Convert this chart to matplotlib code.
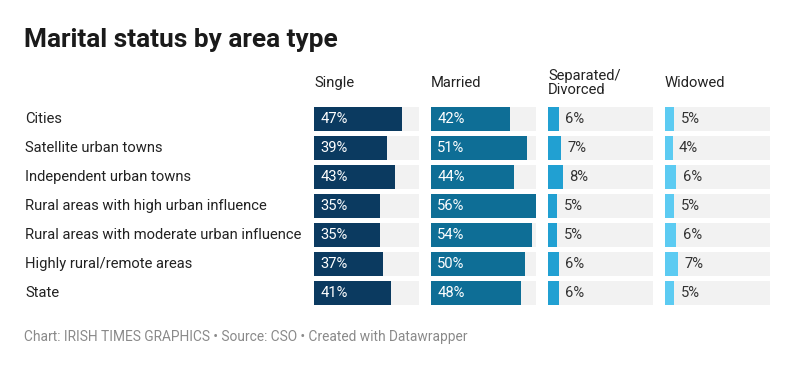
import matplotlib.pyplot as plt

areas = ["Cities", "Satellite urban towns", "Independent urban towns",
         "Rural areas with high urban influence",
         "Rural areas with moderate urban influence",
         "Highly rural/remote areas", "State"]
headers = ["Single", "Married", "Separated/\nDivorced", "Widowed"]
single = [47, 39, 43, 35, 35, 37, 41]
married = [42, 51, 44, 56, 54, 50, 48]
separated = [6, 7, 8, 5, 5, 6, 6]
widowed = [5, 4, 6, 5, 6, 7, 5]

series = [single, married, separated, widowed]
colors = ["#0b3a60", "#0e6e96", "#21a0d2", "#5ccbf2"]
label_inside = [True, True, False, False]
xmax = 56

plt.rcParams['font.family'] = ['Roboto', 'DejaVu Sans']

W, H = 800, 388
fig = plt.figure(figsize=(W / 100, H / 100), dpi=100)

fig.text(24 / W, 1 - 40 / H, "Marital status by area type", fontsize=18.9,
         fontweight='bold', color='#1a1a1a', va='center', ha='left')

top, bottom = 104.5, 307.5
panel_x = [314, 431, 548, 665]
panel_w = 105
fs = 10.6

n = len(areas)
for i, name in enumerate(areas):
    yc = top + (i + 0.5) * (bottom - top) / n
    fig.text(25 / W, 1 - yc / H, name, fontsize=fs, color='#222222',
             va='center', ha='left')

for k, vals in enumerate(series):
    ax = fig.add_axes([panel_x[k] / W, 1 - bottom / H, panel_w / W,
                       (bottom - top) / H])
    ys = list(range(n))
    ax.barh(ys, [xmax] * n, height=0.83, color='#f2f2f2', left=0)
    ax.barh(ys, vals, height=0.83, color=colors[k], left=0)
    for y, v in zip(ys, vals):
        if label_inside[k]:
            ax.annotate(f"{v}%", (0, y), xytext=(4.5, 0), textcoords='offset points',
                        va='center', ha='left', fontsize=fs, color='white')
        else:
            ax.annotate(f"{v}%", (v, y), xytext=(4.5, 0), textcoords='offset points',
                        va='center', ha='left', fontsize=fs, color='#333333')
    ax.set_xlim(0, xmax)
    ax.set_ylim(n - 0.5, -0.5)
    ax.axis('off')
    fig.text(panel_x[k] / W, 1 - 83 / H, headers[k], fontsize=fs,
             color='#222222', va='center', ha='left', linespacing=1.05)

fig.text(24 / W, 1 - 337 / H,
         "Chart: IRISH TIMES GRAPHICS \u2022 Source: CSO \u2022 Created with Datawrapper",
         fontsize=9.9, color='#8a8a8a', va='center', ha='left')

fig.savefig("out.png", dpi=100, facecolor='white')
